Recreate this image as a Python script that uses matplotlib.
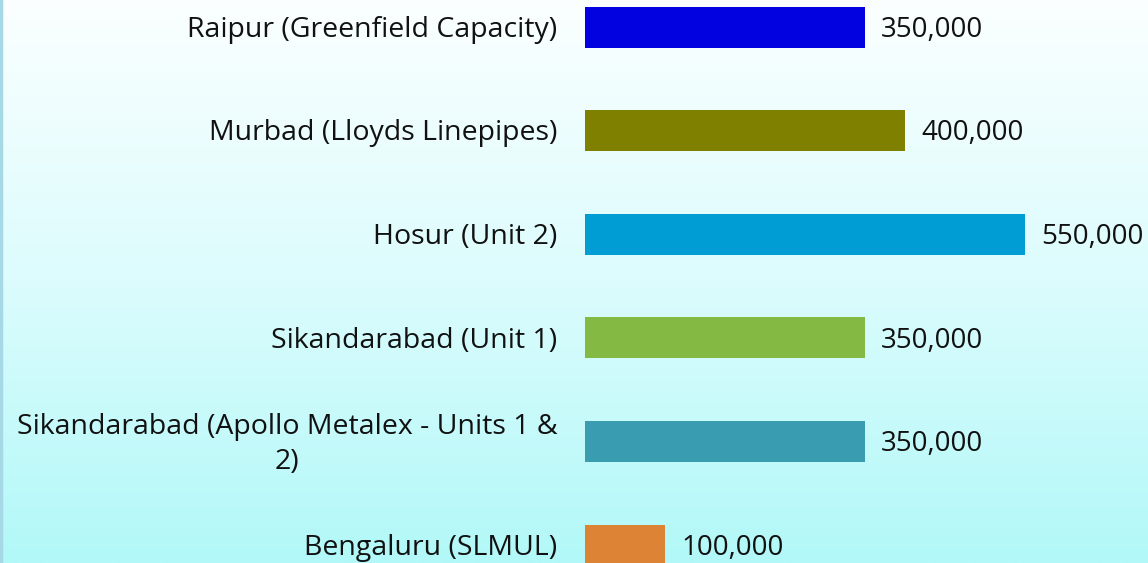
import matplotlib
matplotlib.use("Agg")
import matplotlib.pyplot as plt
import numpy as np
from matplotlib.colors import LinearSegmentedColormap

categories = [
    "Raipur (Greenfield Capacity)",
    "Murbad (Lloyds Linepipes)",
    "Hosur (Unit 2)",
    "Sikandarabad (Unit 1)",
    "Sikandarabad (Apollo Metalex - Units 1 &\n2)",
    "Bengaluru (SLMUL)",
]
values = [350000, 400000, 550000, 350000, 350000, 100000]
value_labels = ["350,000", "400,000", "550,000", "350,000", "350,000", "100,000"]
colors = ["#0202e0", "#808000", "#009cd4", "#84ba44", "#3a9cb0", "#dd8336"]

plt.rcParams['font.family'] = ['Open Sans', 'DejaVu Sans']
FS_CAT = 20.5
FS_VAL = 20

W, H = 1148, 563
fig = plt.figure(figsize=(W/100, H/100), dpi=100)

# background gradient
bg = fig.add_axes([0, 0, 1, 1], zorder=0)
grad = np.linspace(0, 1, 256).reshape(-1, 1)
cmap = LinearSegmentedColormap.from_list("bg", ["#fbffff", "#dcfcfd", "#b2f8f8"])
bg.imshow(grad, aspect='auto', cmap=cmap, extent=[0, 1, 1, 0])
bg.set_xlim(0, 1); bg.set_ylim(1, 0)
bg.axvline(0.001, color="#a6d8e6", lw=2.5)
bg.axis('off')

x0 = 585 / W
ax = fig.add_axes([x0, 0, 1 - x0, 1], zorder=1)
ax.patch.set_alpha(0)
px_per_unit = 0.0008
ax.set_xlim(0, (W - 585) / px_per_unit)
spacing = 103.6
ax.set_ylim(5 + (H - 545) / spacing, -27 / spacing)

y = np.arange(len(categories))
ax.barh(y, values, height=41 / spacing, color=colors)

cap_half = 9.8 * 0.72   # half cap height in points
pitch = 35 * 0.72       # line pitch in points
renderer = fig.canvas.get_renderer()

for i, (v, lab, cat) in enumerate(zip(values, value_labels, categories)):
    ax.annotate(lab, xy=(v, i), xytext=(11.5, -cap_half), textcoords='offset points',
                ha='left', va='baseline', fontsize=FS_VAL, color='#111111')
    lines = cat.split("\n")
    n = len(lines)
    dy0 = -cap_half + (n - 1) * pitch / 2
    first = ax.annotate(lines[0], xy=(0, i), xytext=(-20, dy0), textcoords='offset points',
                        ha='right', va='baseline', fontsize=FS_CAT, color='#111111',
                        annotation_clip=False)
    if n > 1:
        bb = first.get_window_extent(renderer)
        xc_pt = ((bb.x0 + bb.x1) / 2 - 585) * 72 / fig.dpi
        for k, line in enumerate(lines[1:], start=1):
            ax.annotate(line, xy=(0, i), xytext=(xc_pt, dy0 - k * pitch),
                        textcoords='offset points', ha='center', va='baseline',
                        fontsize=FS_CAT, color='#111111', annotation_clip=False)

ax.axis('off')
fig.savefig("out.png", dpi=100)
